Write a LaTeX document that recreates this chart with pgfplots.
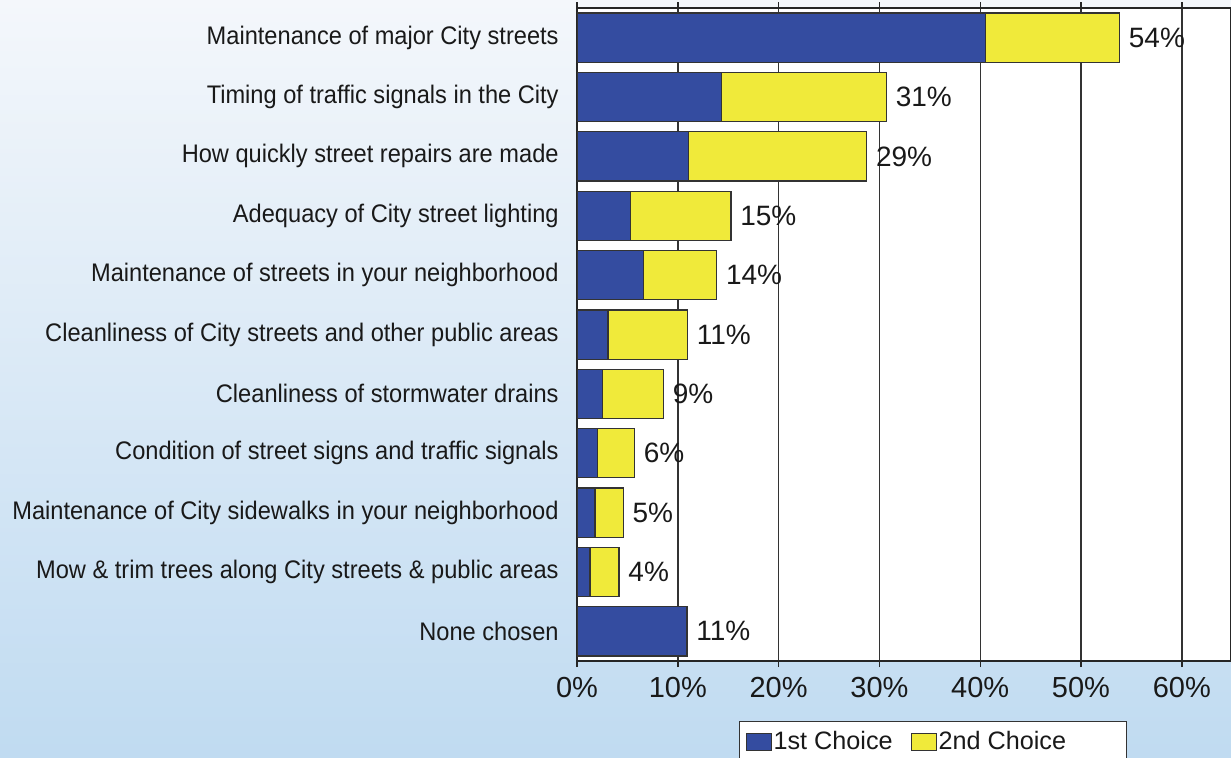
\documentclass[border=0pt]{standalone}
\usepackage{fontspec}
\setmainfont{Liberation Sans}
\newfontfamily\labfont{Liberation Sans}[FakeStretch=0.93]
\usepackage{pgfplots}
\pgfplotsset{compat=1.18}
\definecolor{barblue}{RGB}{52,76,160}
\definecolor{baryellow}{RGB}{240,234,58}
\definecolor{bgtop}{RGB}{244,247,251}
\definecolor{bgbot}{RGB}{192,219,241}
\definecolor{txt}{RGB}{25,25,25}

\begin{document}
\begin{tikzpicture}
\shade[top color=bgtop, bottom color=bgbot] (0,0) rectangle (615.5pt,378.5pt);
\useasboundingbox (0,0) rectangle (615.5pt,378.5pt);
\begin{axis}[
    at={(288.5pt,48pt)}, anchor=south west,
    scale only axis, width=327pt, height=326.5pt,
    xbar, stack plots=x, bar shift=0pt, bar width=24.6pt,
    xmin=0, xmax=64.88, ymin=-0.5, ymax=10.5, y dir=reverse,
    axis background/.style={fill=white},
    axis line style={black!85, line width=0.8pt},
    xtick={0,10,...,60}, xmajorgrids,
    grid style={black!80, line width=0.7pt},
    tick align=outside, major tick length=3pt,
    xtick pos=both, xticklabel pos=lower,
    xtick style={black!85, line width=0.7pt},
    ytick={0,...,10}, ytick style={draw=none},
    yticklabels={Maintenance of major City streets,
        Timing of traffic signals in the City,
        How quickly street repairs are made,
        Adequacy of City street lighting,
        Maintenance of streets in your neighborhood,
        Cleanliness of City streets and other public areas,
        Cleanliness of stormwater drains,
        Condition of street signs and traffic signals,
        Maintenance of City sidewalks in your neighborhood,
        Mow \& trim trees along City streets \& public areas,
        None chosen},
    yticklabel style={font=\labfont\fontsize{12.7}{14}\selectfont, text=txt,
        inner sep=0pt, anchor=east, xshift=-6pt},
    /pgf/number format/assume math mode=true,
    xticklabel={\pgfmathprintnumber{\tick}\%},
    xticklabel style={font=\fontsize{14.5}{16}\selectfont, text=txt,
        inner sep=0pt, anchor=north, yshift=-5pt},
    legend style={at={(0.2477,-0.0914)}, anchor=north west,
        legend columns=2, draw=black!80, line width=0.6pt, fill=white,
        font=\fontsize{12.6}{14}\selectfont, text=txt,
        inner xsep=3pt, inner ysep=4pt,
        nodes={inner sep=1pt},
        /tikz/every even column/.append style={column sep=8pt}},
    legend image code/.code={\draw[#1, line width=0.5pt] (0pt,-4.2pt) rectangle (12.5pt,4.2pt);},
]
\addplot[fill=barblue, draw=black!80, line width=0.6pt]
    coordinates {(40.54,0) (14.35,1) (11.1,2) (5.32,3) (6.59,4) (3.07,5)
                 (2.56,6) (2.05,7) (1.79,8) (1.29,9) (10.91,10)};
\addlegendentry{1st Choice}
\addplot[fill=baryellow, draw=black!80, line width=0.6pt]
    coordinates {(13.28,0) (16.34,1) (17.64,2) (9.95,3) (7.26,4) (7.89,5)
                 (6.02,6) (3.65,7) (2.8,8) (2.88,9) (0,10)};
\addlegendentry{\makebox[90pt][l]{2nd Choice}}
% totals, for the labels at the bar ends
\addplot[forget plot, stack plots=false, only marks, mark=none,
    point meta=explicit symbolic, nodes near coords,
    nodes near coords style={anchor=west, inner sep=0pt, xshift=4.5pt,
        font=\fontsize{14}{16}\selectfont, text=txt}]
    coordinates {(53.82,0) [54\%] (30.69,1) [31\%] (28.74,2) [29\%]
                 (15.27,3) [15\%] (13.85,4) [14\%] (10.96,5) [11\%]
                 (8.58,6) [9\%] (5.70,7) [6\%] (4.59,8) [5\%]
                 (4.17,9) [4\%] (10.91,10) [11\%]};
\end{axis}
\end{tikzpicture}
\end{document}
